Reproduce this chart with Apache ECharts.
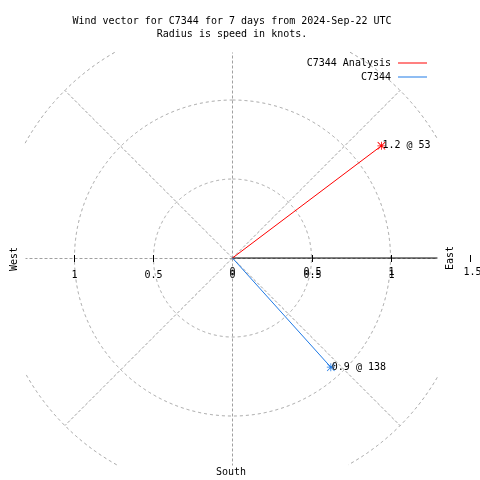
<!DOCTYPE html>
<html>
<head>
<meta charset="utf-8">
<script src="https://cdn.jsdelivr.net/npm/echarts@6/dist/echarts.min.js"></script>
<style>html,body{margin:0;padding:0;background:#fff}#c{width:480px;height:480px}</style>
</head>
<body>
<div id="c"></div>
<script>
// ---- data ----
const seriesNames = ['C7344 Analysis', 'C7344'];
const speeds = [1.18, 0.93];        // knots
const directions = [53, 138];       // degrees, clockwise from north
const seriesColors = ['#ff0000', '#1f7ae6'];
const ringRadii = [0.5, 1, 1.5];
const spokeAngles = [0, 45, 90, 135, 180, 225, 270, 315];
const tickValues = [-1, -0.5, 0, 0.5, 1, 1.5];
const tickLabels = ['1', '0.5', '0', '0.5', '1', '1.5'];
const titleLines = ['Wind vector for C7344 for 7 days from 2024-Sep-22 UTC', 'Radius is speed in knots.'];

// ---- layout ----
const FONT = '"DejaVu Sans Mono", "Liberation Mono", monospace';
const X_MIN = -1.313, X_MAX = 1.503, Y_MIN = -1.310, Y_MAX = 1.304;
const BOX = {xLo: -1.313, xHi: 1.297, yLo: -1.310, yHi: 1.304};
const GRID_COLOR = '#a0a0a0';
const inside = (x, y) => x >= BOX.xLo && x <= BOX.xHi && y >= BOX.yLo && y <= BOX.yHi;

const chart = echarts.init(document.getElementById('c'), null, {renderer: 'canvas'});

const asterisk = 'path://M4.5 0h1v10h-1z M0 4.5h10v1h-10z M0.7 0L10 9.3L9.3 10L0 0.7z M9.3 0L10 0.7L0.7 10L0 9.3z';

const vectorSeries = seriesNames.map((name, i) => {
  const rad = directions[i] * Math.PI / 180;
  const x = speeds[i] * Math.sin(rad), y = speeds[i] * Math.cos(rad);
  return {
    name, type: 'line', z: 5, animation: false, silent: true,
    lineStyle: {color: seriesColors[i], width: 1},
    itemStyle: {color: seriesColors[i]},
    data: [
      {value: [0, 0], symbol: 'none'},
      {value: [x, y], symbol: asterisk, symbolSize: 8,
       label: {show: true, position: 'right', distance: -3, offset: [0, 0],
               formatter: speeds[i].toFixed(1) + ' @ ' + directions[i],
               color: '#000', fontFamily: FONT, fontSize: 10}}
    ]
  };
});

const ringSeries = {
  type: 'custom', z: 1, silent: true, animation: false,
  data: ringRadii.map(r => [r]),
  renderItem(params, api) {
    const r = api.value(0);
    const segs = []; let cur = [];
    const N = 1440;
    for (let k = 0; k <= N; k++) {
      const t = k / N * 2 * Math.PI;
      const x = r * Math.sin(t), y = r * Math.cos(t);
      if (inside(x, y)) cur.push(api.coord([x, y]));
      else { if (cur.length > 1) segs.push(cur); cur = []; }
    }
    if (cur.length > 1) segs.push(cur);
    return {type: 'group', children: segs.map(p => ({
      type: 'polyline', shape: {points: p},
      style: {stroke: GRID_COLOR, lineWidth: 1, lineDash: [3, 3], fill: null}
    }))};
  }
};

const spokeSeries = {
  type: 'custom', z: 1, silent: true, animation: false,
  data: spokeAngles.map(a => [a]),
  renderItem(params, api) {
    const a = api.value(0) * Math.PI / 180;
    let dx = Math.sin(a), dy = Math.cos(a);
    if (Math.abs(dx) < 1e-9) dx = 0;
    if (Math.abs(dy) < 1e-9) dy = 0;
    let t = ringRadii[ringRadii.length - 1];
    if (dx > 0) t = Math.min(t, BOX.xHi / dx);
    if (dx < 0) t = Math.min(t, BOX.xLo / dx);
    if (dy > 0) t = Math.min(t, BOX.yHi / dy);
    if (dy < 0) t = Math.min(t, BOX.yLo / dy);
    const p0 = api.coord([0, 0]), p1 = api.coord([t * dx, t * dy]);
    const snap = v => (dx === 0 || dy === 0) ? Math.round(v) + 0.5 : v;
    return {type: 'line', shape: {x1: snap(p0[0]), y1: snap(p0[1]), x2: snap(p1[0]), y2: snap(p1[1])},
      style: {stroke: GRID_COLOR, lineWidth: 1, lineDash: [3, 2]}};
  }
};

const axisLineSeries = {
  type: 'line', z: 3, silent: true, animation: false, symbol: 'none',
  lineStyle: {color: '#000', width: 1},
  data: [[0, 0], [BOX.xHi, 0]]
};

const tickSeries = {
  type: 'custom', z: 4, silent: true, animation: false,
  data: tickValues.map((v, i) => [v, i]),
  renderItem(params, api) {
    const v = api.value(0), idx = api.value(1);
    const p = api.coord([v, 0]);
    const px = Math.round(p[0]) + 0.5, py = Math.round(p[1]);
    const children = [];
    if (v !== 0) children.push({type: 'line', shape: {x1: px, y1: py - 3, x2: px, y2: py + 4},
      style: {stroke: '#000', lineWidth: 1}});
    const txt = tickLabels[idx];
    const isEnd = v === tickValues[tickValues.length - 1];
    const mk = (dy) => ({type: 'text', x: px + (isEnd ? 2 : 0), y: py + (isEnd ? 14 : 17) + dy,
      style: {text: txt, fill: '#000', font: '10px ' + FONT, align: 'center', verticalAlign: 'middle'}});
    children.push(mk(0));
    if (v >= 0 && !isEnd) children.push(mk(-3));
    return {type: 'group', children};
  }
};

chart.setOption({
  animation: false,
  backgroundColor: '#fff',
  title: {
    text: titleLines.join('\n'), left: 227, top: 10, textAlign: 'center',
    textStyle: {fontFamily: FONT, fontSize: 10, fontWeight: 'normal', color: '#000', lineHeight: 13}
  },
  legend: {
    data: seriesNames, orient: 'vertical', right: 48, top: 52, align: 'right',
    icon: 'rect', itemWidth: 29, itemHeight: 1, itemGap: 2,
    textStyle: {fontFamily: FONT, fontSize: 10, color: '#000', lineHeight: 12, padding: [0, 2, 0, 0]}
  },
  grid: {left: 25, right: 10, top: 52, bottom: 15},
  xAxis: {type: 'value', min: X_MIN, max: X_MAX, show: false},
  yAxis: {type: 'value', min: Y_MIN, max: Y_MAX, show: false},
  graphic: [
    {type: 'text', x: 14, y: 259, rotation: Math.PI / 2,
     style: {text: 'West', font: '10px ' + FONT, fill: '#000', align: 'center', verticalAlign: 'middle'}},
    {type: 'text', x: 450, y: 258, rotation: Math.PI / 2,
     style: {text: 'East', font: '10px ' + FONT, fill: '#000', align: 'center', verticalAlign: 'middle'}},
    {type: 'text', x: 231, y: 472,
     style: {text: 'South', font: '10px ' + FONT, fill: '#000', align: 'center', verticalAlign: 'middle'}}
  ],
  series: [ringSeries, spokeSeries, axisLineSeries, tickSeries, ...vectorSeries]
});
</script>
</body>
</html>
